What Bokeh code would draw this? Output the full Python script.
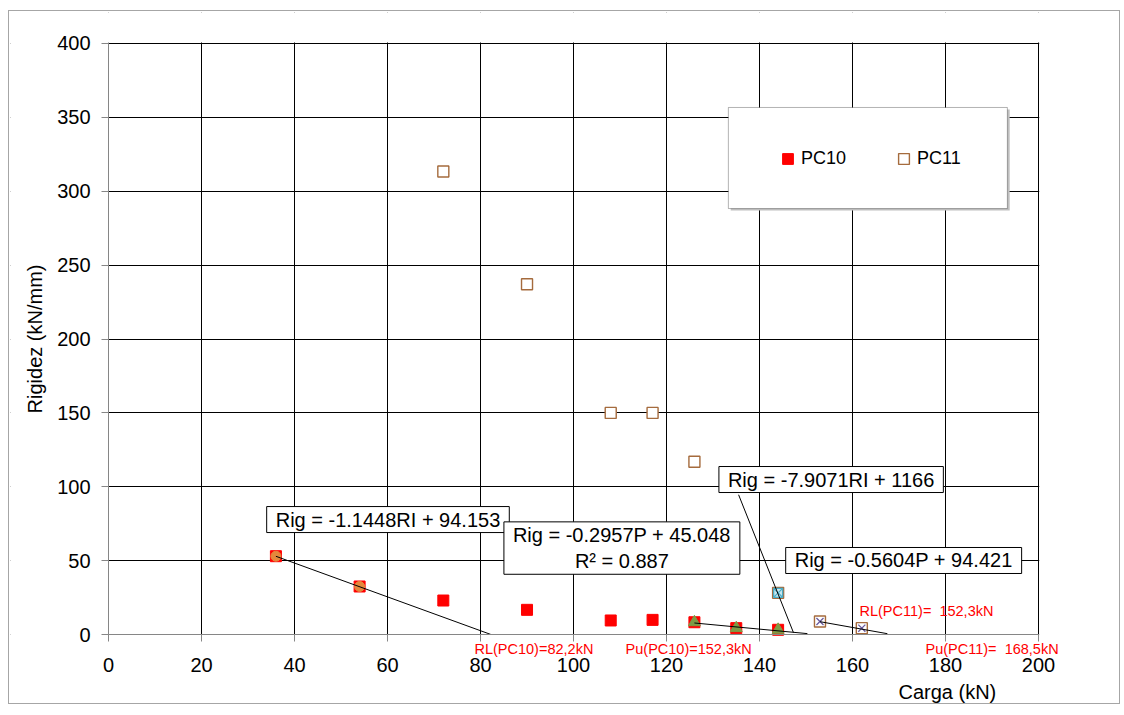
from bokeh.plotting import figure
from bokeh.models import Label, BoxAnnotation, Legend, LegendItem, FixedTicker, ColumnDataSource
from bokeh.embed import file_html
from bokeh.resources import INLINE

FONT = "Liberation Sans"

# ---- data ----
pc10_x = [36, 54, 72, 90, 108, 117, 126, 135, 144]
pc10_y = [53.0, 32.5, 23.0, 16.7, 9.5, 9.9, 8.3, 4.3, 3.2]
pc11_x = [72, 90, 108, 117, 126, 144, 153, 162]
pc11_y = [313.4, 237.1, 150.0, 150.0, 116.9, 28.2, 8.8, 4.3]
rl10_x = [36, 54]
rl10_y = [53.0, 32.5]
pu10_x = [126, 135, 144]
pu10_y = [8.3, 4.3, 3.2]
rl11_x = [144]
rl11_y = [28.2]
pu11_x = [153, 162]
pu11_y = [8.8, 4.3]

# trendlines: slope, intercept, x start, x end
fit_slope = [-1.1448, -0.2957, -7.9071, -0.5604]
fit_icept = [94.153, 45.048, 1166.0, 94.421]
fit_x0 = [36, 126, 135.5, 153]
fit_x1 = [82.24, 150.3, 147.3, 167.5]

eq_texts = ["Rig = -1.1448RI + 94.153", "Rig = -0.2957P + 45.048\nR\u00b2 = 0.887",
            "Rig = -7.9071RI + 1166", "Rig = -0.5604P + 94.421"]
eq_x = [60.1, 110.4, 155.4, 171.0]
eq_y = [77.8, 58.5, 104.9, 50.1]

red_texts = ["RL(PC10)=82,2kN", "Pu(PC10)=152,3kN", "RL(PC11)=\u00a0 152,3kN", "Pu(PC11)=\u00a0 168,5kN"]
red_x = [78.7, 111.2, 161.5, 175.7]
red_y = [-9.5, -9.5, 15.6, -9.5]

x_ticks = list(range(0, 201, 20))
y_ticks = list(range(0, 401, 50))

# ---- figure ----
p = figure(width=1112, height=694, x_range=(-21.08, 217.63), y_range=(-47.37, 420.98),
           output_backend="svg", toolbar_location=None,
           min_border_left=1, min_border_right=1, min_border_top=1, min_border_bottom=1)
p.styles = {"border": "1px solid #a6a6a6", "margin": "10px 0 0 8px"}
p.background_fill_color = "white"
p.border_fill_color = "white"
p.outline_line_color = None

p.xaxis.ticker = FixedTicker(ticks=x_ticks)
p.yaxis.ticker = FixedTicker(ticks=y_ticks)
p.xaxis.fixed_location = 0
p.yaxis.fixed_location = 0
p.xaxis.bounds = (0, 200)
p.yaxis.bounds = (0, 400)
for ax in (p.xaxis, p.yaxis):
    ax.axis_line_color = "#868686"
    ax.major_tick_line_color = "#868686"
    ax.major_tick_out = 7
    ax.major_tick_in = 0
    ax.minor_tick_line_color = None
    ax.major_label_text_font = FONT
    ax.major_label_text_font_size = "20px"
    ax.major_label_text_color = "black"
p.xaxis.major_label_standoff = 16
p.yaxis.major_label_standoff = 11
p.yaxis.axis_label = "Rigidez (kN/mm)"
p.yaxis.axis_label_text_font = FONT
p.yaxis.axis_label_text_font_size = "20px"
p.yaxis.axis_label_text_font_style = "normal"
p.yaxis.axis_label_text_color = "black"
p.yaxis.axis_label_standoff = 8

p.xgrid.grid_line_color = "black"
p.ygrid.grid_line_color = "black"
p.xgrid.grid_line_alpha = 1
p.ygrid.grid_line_alpha = 1

# hide grid lines outside the 0..200 x 0..400 plot area
for kw in (dict(top=0), dict(left=200.15), dict(right=0), dict(bottom=400.6)):
    p.add_layout(BoxAnnotation(fill_color="white", fill_alpha=1, line_color=None, level="underlay", **kw))

# ---- markers ----
r10 = p.scatter(pc10_x, pc10_y, marker="square", size=11, fill_color="#ff0000", line_color="#ff0000")
r11 = p.scatter(pc11_x, pc11_y, marker="square", size=11, fill_color="white", line_color="#a56b3d", line_width=1.4)
p.scatter(rl10_x, rl10_y, marker="circle", size=10, fill_color="#e4883c", line_color="#e4883c")
p.scatter(pu10_x, pu10_y, marker="triangle", size=12, fill_color="#7e9b45", line_color="#7e9b45")
p.scatter(rl11_x, rl11_y, marker="square_x", size=9, fill_color="#c8e8f0", line_color="#4bacc6", line_width=1.3)
p.scatter(pu11_x, pu11_y, marker="x", size=10, line_color="#6a5a9e", line_width=1.3)

# ---- trendlines ----
src = ColumnDataSource(dict(
    x0=fit_x0, x1=fit_x1,
    y0=[m * a + b for m, a, b in zip(fit_slope, fit_x0, fit_icept)],
    y1=[m * a + b for m, a, b in zip(fit_slope, fit_x1, fit_icept)]))
p.segment("x0", "y0", "x1", "y1", source=src, line_color="black", line_width=1)

# ---- legend box ----
p.add_layout(BoxAnnotation(left=133.8, right=193.8, top=355.3, bottom=286.9,
                           fill_color="#bfbfbf", fill_alpha=1, line_color=None))
p.add_layout(BoxAnnotation(left=133.3, right=193.3, top=356.7, bottom=288.3,
                           fill_color="white", fill_alpha=1, line_color="black", line_width=1))
legend = Legend(items=[LegendItem(label="PC10", renderers=[r10]),
                       LegendItem(label="PC11", renderers=[r11])],
                orientation="horizontal", location=(764, 532), margin=0,
                border_line_color=None, background_fill_alpha=0,
                glyph_width=27, glyph_height=27, label_standoff=0, spacing=44, padding=5,
                label_text_font=FONT, label_text_font_size="18px", label_text_color="black")
p.add_layout(legend)

# ---- equation boxes ----
for t, x, y in zip(eq_texts, eq_x, eq_y):
    p.add_layout(Label(x=x, y=y, text=t, text_align="center", text_baseline="middle",
                       text_font=FONT, text_font_size="20px", text_color="black",
                       background_fill_color="white", border_line_color="black",
                       padding=dict(left=9, right=9, top=2, bottom=2)))

for t, x, y in zip(red_texts, red_x, red_y):
    p.add_layout(Label(x=x, y=y, text=t, text_align="left", text_baseline="middle",
                       text_font=FONT, text_font_size="14.5px", text_color="#ff0000"))

p.add_layout(Label(x=180.4, y=-38.6, text="Carga (kN)", text_align="center", text_baseline="middle",
                   text_font=FONT, text_font_size="20px", text_color="black"))

open("out.html", "w").write(file_html(p, INLINE))
